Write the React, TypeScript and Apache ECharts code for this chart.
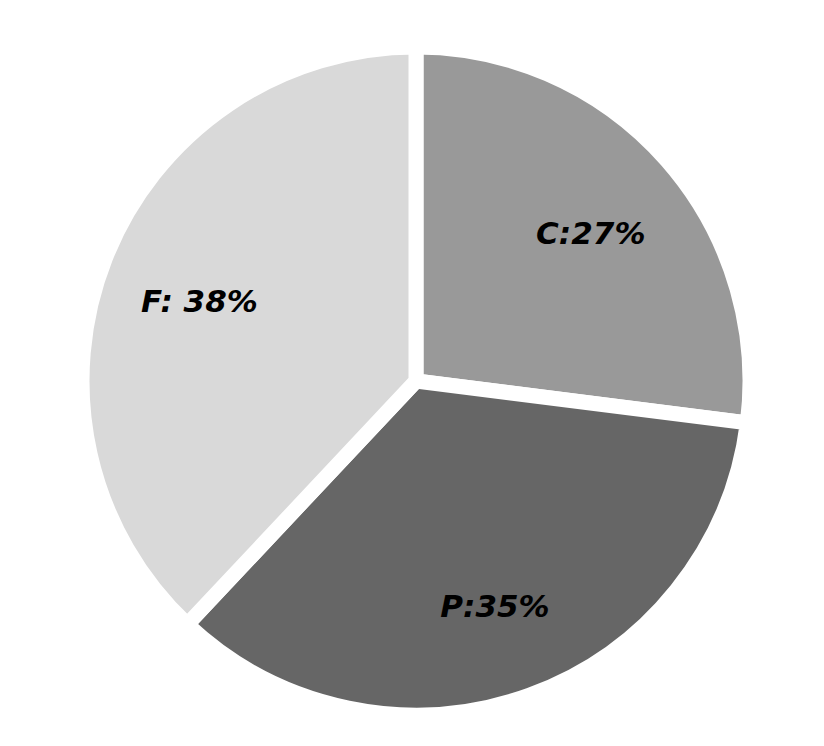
import React, { useEffect, useRef } from "react";
import * as echarts from "echarts";

const categories = ["C", "P", "F"];
const values = [27, 35, 38];
const labels = ["C:27%", "P:35%", "F: 38%"];
const colors = ["#999999", "#666666", "#d9d9d9"];

export default function App() {
  const ref = useRef<HTMLDivElement>(null);
  useEffect(() => {
    if (!ref.current) return;
    const chart = echarts.init(ref.current, undefined, { renderer: "svg" });
    const data = categories.map((c, i) => ({
      name: c,
      value: values[i],
      itemStyle: { color: colors[i] },
    }));
    const labelData = categories.map((c, i) => ({
      name: c,
      value: values[i],
    }));
    chart.setOption({
      animation: false,
      backgroundColor: "#ffffff",
      series: [
        {
          type: "pie",
          center: [416, 381],
          radius: [0, 334],
          startAngle: 90,
          clockwise: true,
          data,
          itemStyle: { borderColor: "#ffffff", borderWidth: 15 },
          label: { show: false },
          labelLine: { show: false },
          silent: true,
        },
        {
          type: "pie",
          center: [416, 387],
          radius: [200, 260],
          startAngle: 90,
          clockwise: true,
          data: labelData,
          itemStyle: { color: "rgba(0,0,0,0)" },
          label: {
            show: true,
            position: "inside",
            formatter: (p: any) => labels[p.dataIndex],
            color: "#000000",
            fontSize: 31,
            fontWeight: "bold",
            fontStyle: "italic",
            fontFamily: "DejaVu Sans",
          },
          labelLine: { show: false },
          silent: true,
        },
      ],
    });
    return () => chart.dispose();
  }, []);
  return (
    <div
      ref={ref}
      style={{ position: "fixed", left: 0, top: 0, width: 824, height: 746 }}
    />
  );
}
